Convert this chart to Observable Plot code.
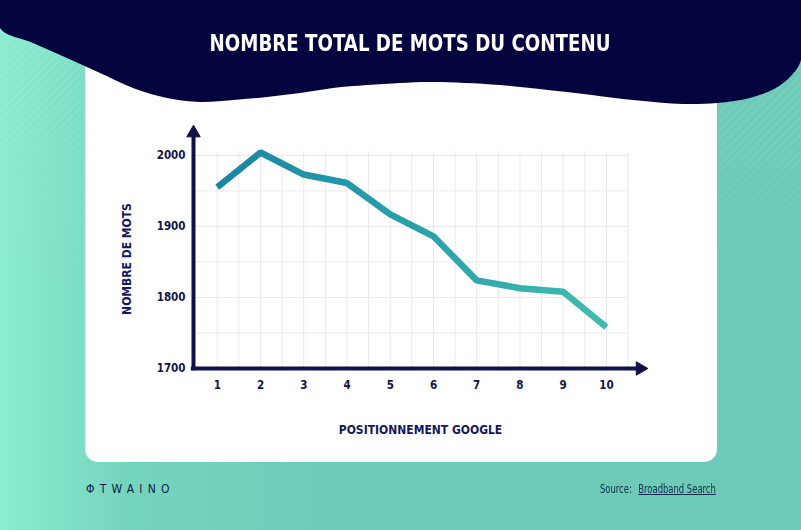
<!DOCTYPE html>
<html>
<head>
<meta charset="utf-8">
<script src="https://cdn.jsdelivr.net/npm/d3@7"></script>
<script src="https://cdn.jsdelivr.net/npm/@observablehq/plot@0.6"></script>
<style>
  body { margin:0; }
  #page { position:relative; width:801px; height:530px; overflow:hidden;
    background: linear-gradient(90deg, #8aedd0 0%, #74d5bd 16%, #6dcbb7 40%, #6ccab7 100%);
    font-family: "DejaVu Sans Condensed", "DejaVu Sans", sans-serif; }
  #stripes { position:absolute; left:0; top:0; width:801px; height:300px;
    background: repeating-linear-gradient(135deg, rgba(255,255,255,0.07) 0 2px, rgba(255,255,255,0) 2px 6px);
    -webkit-mask-image: linear-gradient(180deg, #000 0%, #000 40%, transparent 100%);
    mask-image: linear-gradient(180deg, #000 0%, #000 40%, transparent 100%); }
  #card { position:absolute; left:85px; top:55px; width:632px; height:407px; background:#fff; border-radius:13px; }
  #blob { position:absolute; left:0; top:0; }
  #title { position:absolute; left:0; top:30px; width:820px; text-align:center; color:#fff;
    font-weight:bold; font-size:23px; transform: scaleX(0.88); transform-origin: 410px 0; }
  #chart { position:absolute; left:85px; top:100px; }
  #logo { position:absolute; left:86px; top:482px; color:#14184a; font-size:12px; letter-spacing:5.2px; }
  #source { position:absolute; left:600px; top:482px; color:#16294f; font-size:12px; transform: scaleX(0.78); transform-origin: 0 0; white-space:nowrap; }
  #source span { text-decoration:underline; margin-left:5px; }
</style>
</head>
<body>
<div id="page">
  <div id="stripes"></div>
  <div id="card"></div>
  <svg id="blob" width="801" height="120"></svg>
  <div id="title">NOMBRE TOTAL DE MOTS DU CONTENU</div>
  <div id="chart"></div>
  <div id="logo">ΦTWAINO</div>
  <div id="source">Source: <span>Broadband Search</span></div>
</div>
<script>
// ---- data ----
const positions = [1, 2, 3, 4, 5, 6, 7, 8, 9, 10];
const words = [1955, 2004, 1973, 1961, 1917, 1886, 1824, 1813, 1808, 1758];
const xTicks = [1, 2, 3, 4, 5, 6, 7, 8, 9, 10];
const yTicks = [1700, 1800, 1900, 2000];
const gridX = [1, 1.5, 2, 2.5, 3, 3.5, 4, 4.5, 5, 5.5, 6, 6.5, 7, 7.5, 8, 8.5, 9, 9.5, 10, 10.5];
const gridY = [1750, 1800, 1850, 1900, 1950, 2000];
const yLabel = "NOMBRE DE MOTS";
const xLabel = "POSITIONNEMENT GOOGLE";

const table = positions.map((p, i) => ({position: p, words: words[i]}));

// ---- header blob ----
const blobPts = [[801,-10],[801,60],[791,76],[774,89],[750,98],[717,103],[683,104],[633,100],[567,92],[500,85],[433,82],[400,83],[367,85],[333,88],[300,93],[267,97],[233,100],[200,102],[167,98],[133,88],[100,73],[67,58],[33,43],[0,28],[0,-10]];
d3.select("#blob").append("path")
  .attr("d", d3.line().curve(d3.curveCatmullRom)(blobPts) + "Z")
  .attr("fill", "#04043f");

const navy = "#11124a";
const font = "'DejaVu Sans Condensed', 'DejaVu Sans', sans-serif";

function gradientDefs(index, scales) {
  const ns = "http://www.w3.org/2000/svg";
  const defs = document.createElementNS(ns, "defs");
  const g = document.createElementNS(ns, "linearGradient");
  g.setAttribute("id", "lineGrad");
  g.setAttribute("gradientUnits", "userSpaceOnUse");
  g.setAttribute("x1", scales.x(positions[0]));
  g.setAttribute("x2", scales.x(positions[positions.length - 1]));
  g.setAttribute("y1", 0); g.setAttribute("y2", 0);
  [["0%", "#1a84a6"], ["55%", "#2ba3ad"], ["100%", "#42bbae"]].forEach(([o, c]) => {
    const s = document.createElementNS(ns, "stop");
    s.setAttribute("offset", o); s.setAttribute("stop-color", c);
    g.appendChild(s);
  });
  defs.appendChild(g);
  return defs;
}

const chart = Plot.plot({
  width: 632,
  height: 362,
  marginLeft: 108,
  marginRight: 70,
  marginTop: 25,
  marginBottom: 94,
  x: {domain: [0.45, 10.95]},
  y: {domain: [1700, 2042]},
  style: {background: "transparent", fontFamily: font, overflow: "visible"},
  marks: [
    gradientDefs,
    Plot.ruleX(gridX, {y1: 1700, y2: 2005, stroke: "#e9e9e9", strokeWidth: 1}),
    Plot.ruleY(gridY, {x1: 0.45, x2: 10.5, stroke: "#e9e9e9", strokeWidth: 1}),
    Plot.line(table, {x: "position", y: "words", stroke: "url(#lineGrad)", strokeWidth: 6.5, strokeLinejoin: "miter", strokeLinecap: "butt"}),
    Plot.ruleX([0.45], {y1: 1697, y2: 2028, stroke: navy, strokeWidth: 4}),
    Plot.ruleY([1700], {x1: 0.40, x2: 10.75, stroke: navy, strokeWidth: 4}),
    Plot.dot([{x: 0.45, y: 2031.5}], {x: "x", y: "y", symbol: "triangle", r: 5, fill: navy, stroke: navy, strokeWidth: 1}),
    Plot.dot([{x: 10.78, y: 1700}], {x: "x", y: "y", symbol: "triangle", rotate: 90, r: 5, fill: navy, stroke: navy, strokeWidth: 1}),
    Plot.axisX({ticks: xTicks, tickSize: 0, tickPadding: 12, label: null, fontSize: 11.5, fontWeight: "bold", color: navy}),
    Plot.axisY({ticks: yTicks, tickFormat: "d", tickSize: 0, tickPadding: 8, label: null, fontSize: 11.5, fontWeight: "bold", color: navy}),
    Plot.text([yLabel], {text: d => d, frameAnchor: "left", textAnchor: "middle", rotate: -90, dx: -66, dy: 12, fontSize: 12, fontWeight: "bold", fill: "#15185a"}),
    Plot.text([xLabel], {text: d => d, frameAnchor: "bottom", dy: 65, fontSize: 12, fontWeight: "bold", fill: "#15185a"})
  ]
});
document.getElementById("chart").appendChild(chart);
</script>
</body>
</html>
